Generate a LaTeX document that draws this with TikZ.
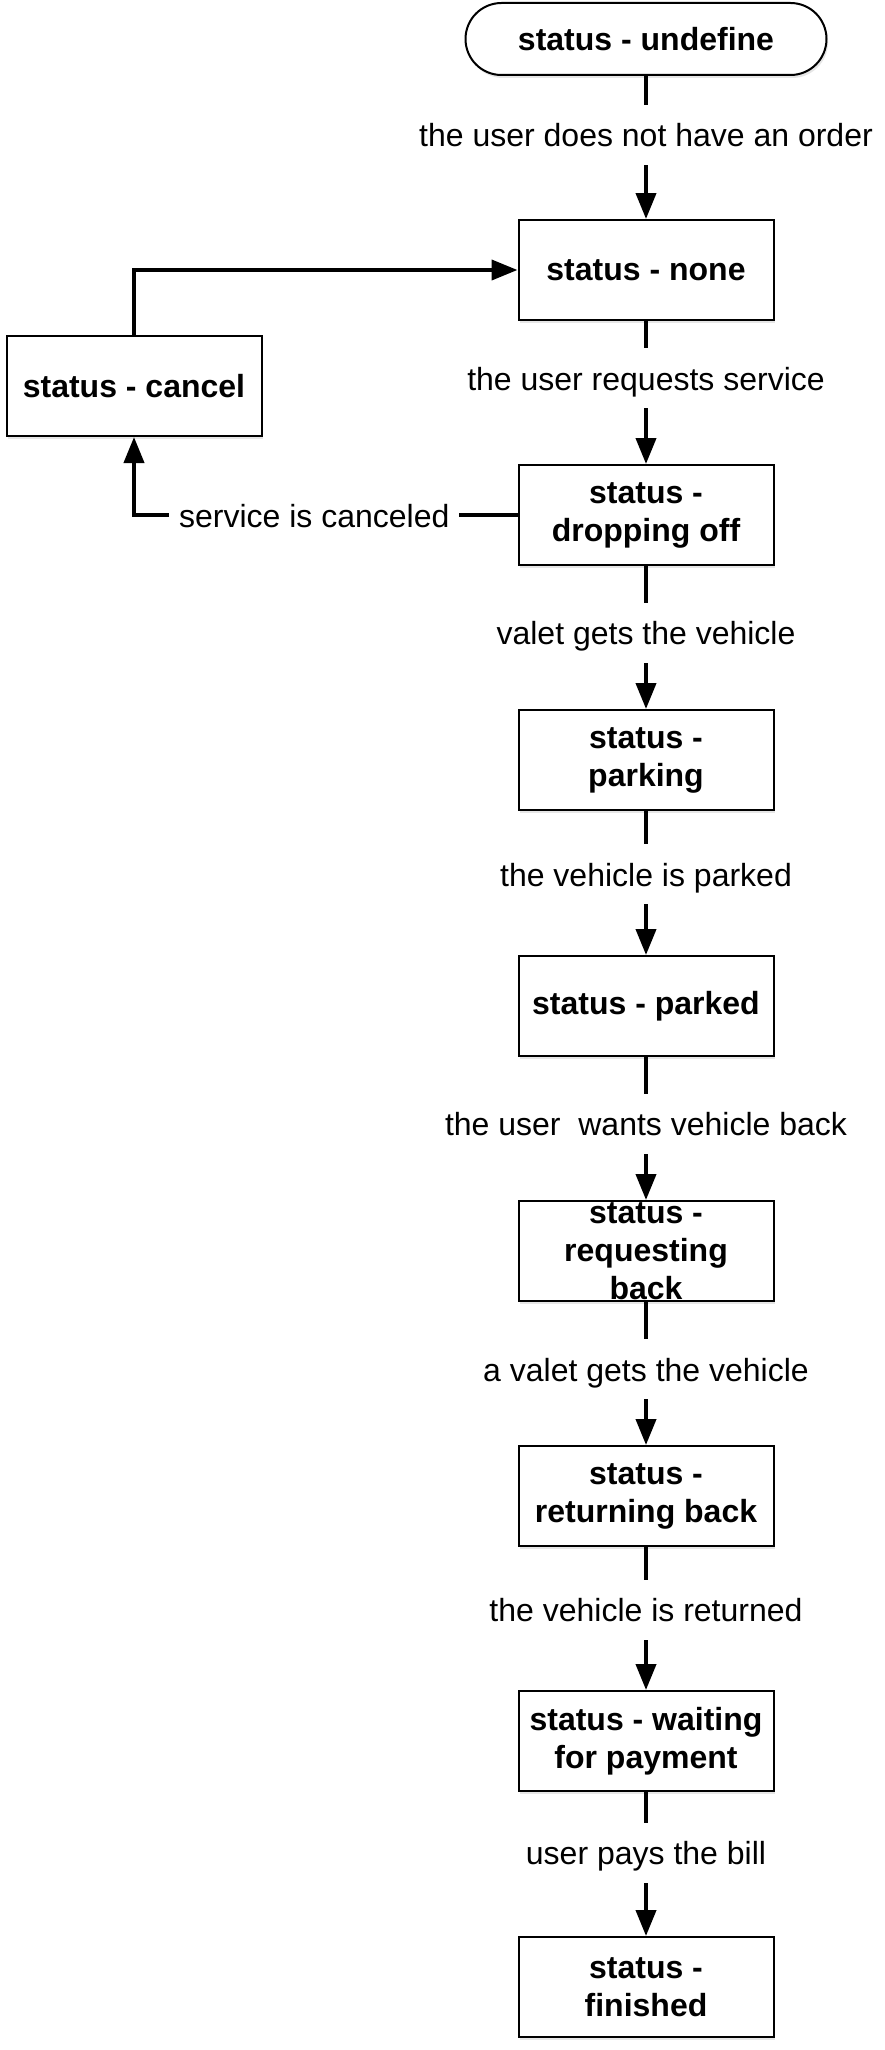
\documentclass[tikz,border=0pt]{standalone}
\usepackage{fontspec}
\setmainfont{Liberation Sans}
\usepackage{tikz}
\usetikzlibrary{arrows.meta,shadows}

\tikzset{
  statebox/.style={draw, line width=1pt, fill=white, minimum width=127.5pt, minimum height=50pt,
    align=center, font=\fontsize{16}{19}\selectfont\bfseries,
    drop shadow={shadow xshift=0.8pt, shadow yshift=-1.5pt, opacity=0.2}},
  startbox/.style={statebox, rounded corners=18pt, minimum width=180.5pt, minimum height=36pt},
  flow/.style={line width=2pt, -{Triangle[length=13pt,width=10pt]}},
  flowlabel/.style={fill=white, font=\fontsize{16}{19}\selectfont, text height=14pt, text depth=2pt,
    inner ysep=7pt, inner xsep=5pt}
}

\begin{document}
\begin{tikzpicture}[x=0.5pt, y=-0.5pt]
      \useasboundingbox (0,0) rectangle (884,2050);
      % states
      \node[startbox] (undefine) at (646,39) {status - undefine};
      \node[statebox] (none) at (646,270) {status - none};
      \node[statebox] (dropping) at (646,515) {status -\\dropping off};
      \node[statebox] (parking) at (646,760) {status -\\parking};
      \node[statebox] (parked) at (646,1006) {status - parked};
      \node[statebox, inner ysep=0pt] (reqback) at (646,1251) {status -\\requesting\\back};
      \node[statebox] (retback) at (646,1496) {status -\\returning back};
      \node[statebox] (waiting) at (646,1741) {status - waiting\\for payment};
      \node[statebox] (finished) at (646,1987) {status -\\finished};
      \node[statebox] (cancel) at (134,386) {status - cancel};
      % transitions
      \foreach \from/\to/\where/\what in {undefine/none/0.41/{the user does not have an order},
          none/dropping/0.40/{the user requests service}, dropping/parking/0.465/{valet gets the vehicle},
          parking/parked/0.44/{the vehicle is parked}, parked/reqback/0.465/{the user~ wants vehicle back},
          reqback/retback/0.47/{a valet gets the vehicle}, retback/waiting/0.44/{the vehicle is returned},
          waiting/finished/0.42/{user pays the bill}}
        \draw[flow] (\from) -- node[flowlabel, pos=\where] {\what} (\to);
      \draw[flow] (cancel.north) |- (none.west);
      \draw[flow] (dropping.west) -| node[flowlabel, pos=0.265] {service is canceled} (cancel.south);
    \end{tikzpicture}
\end{document}
